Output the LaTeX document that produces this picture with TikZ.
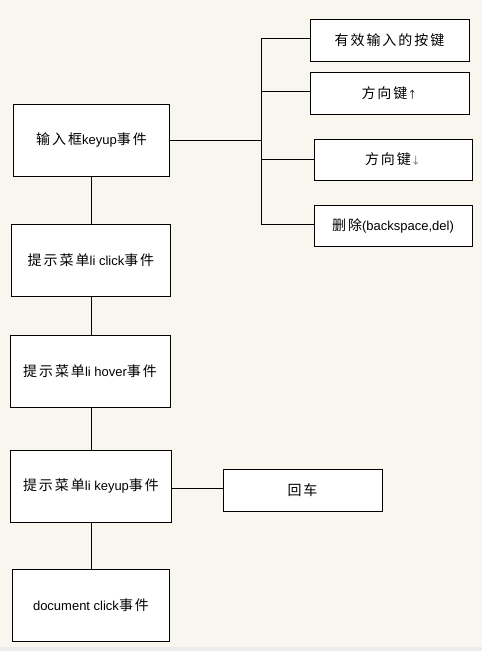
\documentclass[tikz,border=0pt]{standalone}
\usepackage{fontspec}
\setmainfont{Liberation Sans}
\newfontfamily\cjk[LetterSpace=14]{Noto Sans CJK SC}
\newcommand{\zh}[1]{{\cjk\fontsize{14pt}{16pt}\selectfont #1}}
\definecolor{bgc}{HTML}{F9F6EF}
\begin{document}
\begin{tikzpicture}[x=1pt,y=-1pt,
  box/.style={draw=black,fill=white,line width=0.9pt,inner sep=0pt,font=\fontsize{13pt}{15pt}\selectfont},
  conn/.style={draw=black,line width=0.9pt}]
\fill[bgc] (0,0) rectangle (482,651);
\fill[black!8] (0,647) rectangle (482,651);
\useasboundingbox (0,0) rectangle (482,651);
% left column
\node[box,minimum width=156pt,minimum height=72pt] (a) at (91.5,140) {\zh{输入框}keyup\zh{事件}};
\node[box,minimum width=159pt,minimum height=72pt] (b) at (91,260) {\zh{提示菜单}li click\zh{事件}};
\node[box,minimum width=160pt,minimum height=72pt] (c) at (90,371) {\zh{提示菜单}li hover\zh{事件}};
\node[box,minimum width=161pt,minimum height=72pt] (d) at (91,486) {\zh{提示菜单}li keyup\zh{事件}};
\node[box,minimum width=157pt,minimum height=72pt] (e) at (91,605) {document click\zh{事件}};
% right column
\node[box,minimum width=159pt,minimum height=42pt] (r1) at (389.5,40) {\zh{有效输入的按键}};
\node[box,minimum width=159pt,minimum height=42pt] (r2) at (389.5,93) {\zh{方向键}{\cjk\fontsize{10pt}{12pt}\selectfont ↑}};
\node[box,minimum width=158pt,minimum height=41pt] (r3) at (393,159.5) {\zh{方向键}{\cjk\fontsize{10pt}{12pt}\selectfont\color{black!60} ↓}};
\node[box,minimum width=158pt,minimum height=41pt] (r4) at (393,225.5) {\zh{删除}(backspace,del)};
\node[box,minimum width=159pt,minimum height=42pt] (en) at (302.5,490) {\zh{回车}};
% bus
\coordinate (bt) at (261,38);
\coordinate (bb) at (261,224);
\coordinate (bm) at (261,140);
\draw[conn] (bt) -- (bb);
\draw[conn] (a.east) -- (bm);
\draw[conn] (bt) -- (r1.west |- bt);
\draw[conn] (261,91) -- (r2.west |- 0,91);
\draw[conn] (261,159) -- (r3.west |- 0,159);
\draw[conn] (bb) -- (r4.west |- bb);
% vertical chain
\draw[conn] (a.south -| 91.5,0) -- (b.north -| 91.5,0);
\draw[conn] (b.south -| 91.5,0) -- (c.north -| 91.5,0);
\draw[conn] (c.south -| 91.5,0) -- (d.north -| 91.5,0);
\draw[conn] (d.south -| 91.5,0) -- (e.north -| 91.5,0);
\draw[conn] (d.east |- 0,488) -- (en.west |- 0,488);
\end{tikzpicture}
\end{document}
